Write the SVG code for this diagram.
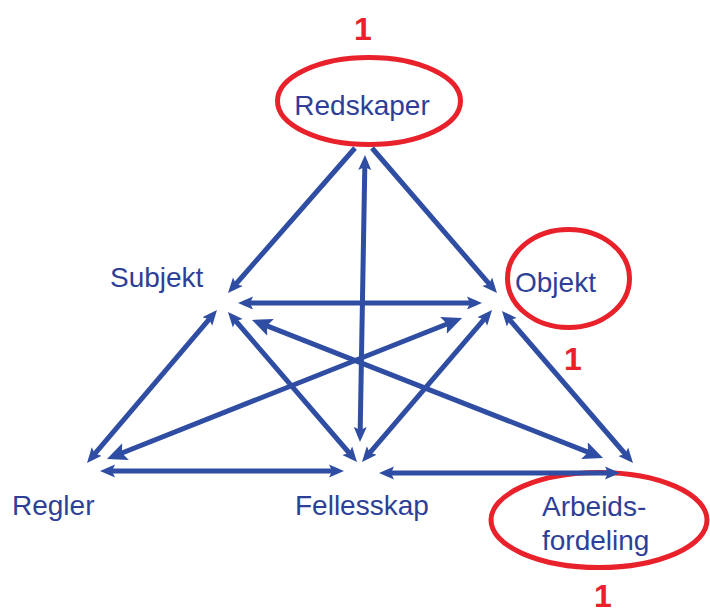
<svg xmlns="http://www.w3.org/2000/svg" width="710" height="614" viewBox="0 0 710 614">
<style>
.lbl{font-family:"Liberation Sans",Arial,sans-serif;font-size:28px;fill:#2e3f98}
.num{font-family:"Liberation Sans",Arial,sans-serif;font-size:32px;font-weight:bold;fill:#e8212b;text-anchor:middle}
.ring{fill:none;stroke:#e8212b;stroke-width:5}
.c{stroke:#2f4ea3;stroke-width:5;fill:none}
.t{marker-end:url(#ah)}
.d{marker-start:url(#ah);marker-end:url(#ah)}
.b{marker-start:url(#bh);marker-end:url(#bh)}
</style>
<defs>
<marker id="ah" markerUnits="userSpaceOnUse" markerWidth="18" markerHeight="16" viewBox="0 -8 18 16" refX="9" refY="0" orient="auto-start-reverse"><path d="M0,-6.5 L15,0 L0,6.5 L3,0 Z" fill="#2f4ea3"/></marker>
<marker id="bh" markerUnits="userSpaceOnUse" markerWidth="22" markerHeight="20" viewBox="0 -10 22 20" refX="12" refY="0" orient="auto-start-reverse"><path d="M0,-9 L20,0 L0,9 L4,0 Z" fill="#2f4ea3"/></marker>
</defs>
<rect width="710" height="614" fill="#fff"/>
<g id="redskaper"><ellipse class="ring" cx="369" cy="101" rx="91.5" ry="43.5"/><text class="lbl" x="362" y="115" text-anchor="middle">Redskaper</text><text class="num" x="363" y="40">1</text></g>
<g id="subjekt"><text class="lbl" x="110" y="287">Subjekt</text></g>
<g id="objekt"><ellipse class="ring" cx="568.5" cy="278.5" rx="61" ry="49"/><text class="lbl" x="515" y="292">Objekt</text><text class="num" x="573" y="370">1</text></g>
<g id="regler"><text class="lbl" x="12" y="515">Regler</text></g>
<g id="fellesskap"><text class="lbl" x="295" y="515">Fellesskap</text></g>
<g id="arbeidsfordeling"><ellipse class="ring" cx="599" cy="520" rx="108" ry="47.5"/><text class="lbl" x="542" y="516">Arbeids-</text><text class="lbl" x="542" y="550">fordeling</text><text class="num" x="603" y="607">1</text></g>
<g id="connectors">
<line class="c t" x1="355" y1="148" x2="231.95" y2="288.49"/>
<line class="c t" x1="372" y1="148" x2="493.08" y2="288.45"/>
<line class="c d" x1="364.9" y1="161" x2="360.1" y2="436"/>
<line class="c d" x1="244" y1="303" x2="476" y2="303"/>
<line class="c d" x1="213.1" y1="314.6" x2="90.9" y2="458.4"/>
<line class="c d" x1="231.9" y1="316.5" x2="353.1" y2="457.5"/>
<line class="c b" x1="259.4" y1="322.9" x2="595.6" y2="455.1"/>
<line class="c b" x1="454.6" y1="320.95" x2="114.4" y2="456"/>
<line class="c d" x1="488.1" y1="314.6" x2="365.9" y2="457.4"/>
<line class="c d" x1="505.9" y1="315.5" x2="629.1" y2="458.5"/>
<line class="c d" x1="106" y1="471" x2="338" y2="471"/>
<line class="c d" x1="385" y1="473" x2="614" y2="473"/>
</g>
</svg>
